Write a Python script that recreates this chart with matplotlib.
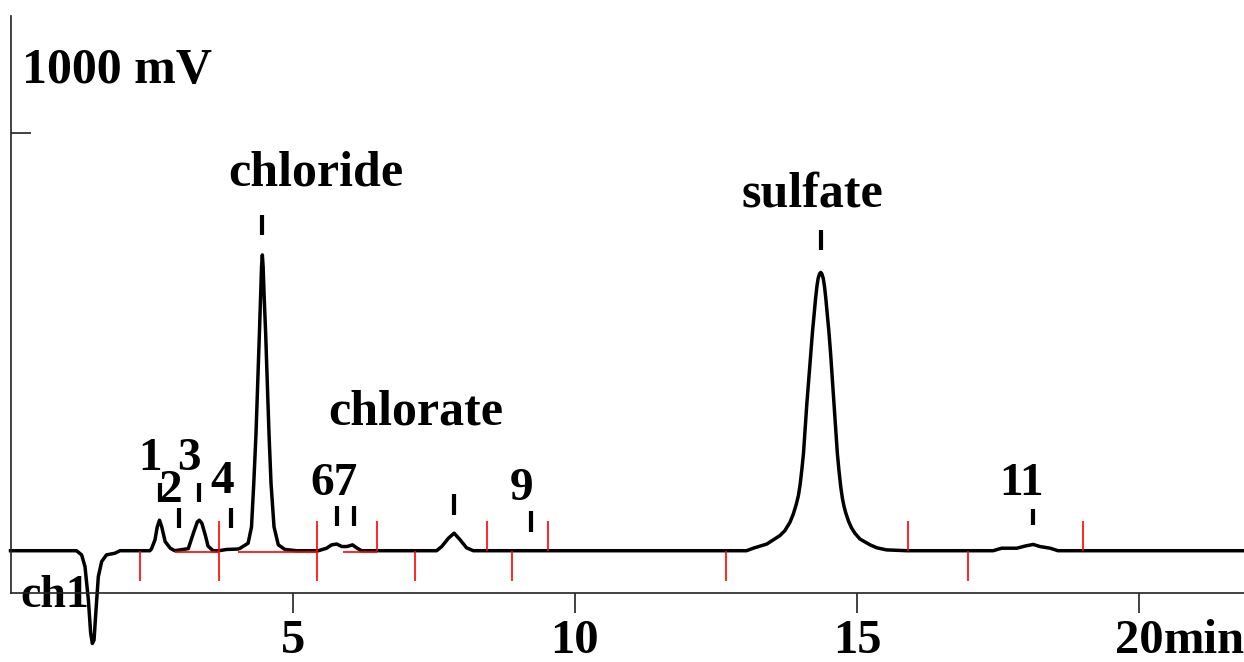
import matplotlib
matplotlib.use('Agg')
import matplotlib.pyplot as plt
import matplotlib.transforms as mtransforms

plt.rcParams['font.family'] = ['Liberation Serif', 'DejaVu Serif']
plt.rcParams['font.weight'] = 'bold'

# chromatogram trace: time (min), signal (mV)
trace_t = [0.00, 1.17, 1.26, 1.32, 1.38, 1.42, 1.45, 1.48, 1.515, 1.556, 1.615, 1.70, 1.85, 1.94,
           2.47, 2.50, 2.56, 2.60, 2.64, 2.68, 2.74, 2.83, 2.91,
           3.15, 3.24, 3.31, 3.345, 3.39, 3.45, 3.50, 3.59, 3.69, 3.83, 4.03,
           4.07, 4.21, 4.27, 4.31, 4.35, 4.38, 4.41, 4.433, 4.448, 4.462, 4.476, 4.492,
           4.521, 4.55, 4.58, 4.616, 4.669, 4.745, 4.864, 5.07,
           5.455, 5.60, 5.69, 5.78, 5.87, 5.96, 6.06, 6.13, 6.22,
           7.55, 7.64, 7.76, 7.86, 7.96, 8.08, 8.20,
           13.04, 13.16, 13.40, 13.63, 13.72, 13.81, 13.87, 13.92, 13.96, 13.99, 14.02,
           14.05, 14.08, 14.11, 14.145, 14.18, 14.21, 14.24, 14.265, 14.29, 14.31,
           14.335, 14.355, 14.375, 14.40, 14.42, 14.445, 14.47, 14.50, 14.53, 14.56,
           14.59, 14.62, 14.65, 14.68, 14.71, 14.74, 14.77, 14.80, 14.85, 14.90,
           14.96, 15.05, 15.23, 15.35, 15.52, 15.88,
           17.41, 17.56, 17.83, 17.97, 18.12, 18.24, 18.42, 18.56, 21.86]
trace_mv = [0, 0, -10, -38, -118, -197, -222, -214, -142, -62, -26, -10, -6, 0,
            0, 5, 26, 57, 73, 57, 22, 6, 0,
            5, 42, 69, 73, 66, 38, 11, 0, 0, 3, 4,
            6, 18, 57, 161, 281, 401, 520, 616, 680, 708, 680, 616,
            520, 401, 281, 161, 57, 14, 3, 0,
            0, 6, 14, 16, 10, 10, 14, 7, 0,
            0, 10, 30, 42, 27, 7, 0,
            0, 6, 16, 36, 48, 68, 88, 110, 132, 158, 193,
            233, 293, 353, 413, 473, 525, 568, 605, 635, 652,
            663, 666, 663, 652, 635, 605, 568, 525, 473, 413,
            353, 293, 233, 190, 153, 125, 105, 90, 70, 55,
            42, 28, 14, 7, 2, 0,
            0, 6, 6, 11, 15, 10, 6, 0, 0]

# peak markers (black ticks)
mark_t = [2.649, 2.985, 3.340, 3.907, 4.462, 5.780, 6.086, 7.858, 9.217, 14.355, 18.122]
mark_lo = [117, 54, 117, 54, 755, 59, 59, 85, 46, 720, 62]
mark_hi = [162, 102, 162, 102, 803, 107, 107, 135, 95, 768, 101]

# peak labels
num_text = ['1', '2', '3', '4', '67', '9', '11']
num_t = [2.472, 2.838, 3.163, 3.753, 5.732, 9.057, 17.92]
num_mv = [193, 117, 193, 137, 133, 121, 133]
name_text = ['chloride', 'chlorate', 'sulfate']
name_t = [5.41, 7.185, 14.21]
name_mv = [875, 301, 824]

# integration marks (red)
red_up_t = [6.488, 8.448, 9.529, 15.907, 19.008]
red_down_t = [2.294, 7.167, 8.880, 12.672, 16.960]
red_both_t = [3.694, 5.425]
base_start = [2.915, 4.03, 5.89]
base_end = [3.694, 5.425, 6.488]

fig = plt.figure(figsize=(12.44, 6.62), dpi=100)
ax = fig.add_axes([10.5 / 1244, 1 - 592.7 / 662, 1 - 10.5 / 1244, (592.7 - 16) / 662])

ax.hlines([-2] * len(base_start), base_start, base_end, color='red', lw=1.2, zorder=3)
ax.plot(trace_t, trace_mv, color='black', lw=2.5, clip_on=False, zorder=2,
        solid_joinstyle='round')
ax.vlines(red_up_t, 0, 72, color='red', lw=1.2, zorder=3)
ax.vlines(red_down_t, -72, 0, color='red', lw=1.2, zorder=3)
ax.vlines(red_both_t, -72, 72, color='red', lw=1.2, zorder=3)
ax.vlines(mark_t, mark_lo, mark_hi, color='black', lw=3, zorder=3)

for s, t, v in zip(num_text, num_t, num_mv):
    ax.text(t, v, s, ha='center', va='baseline', fontsize=34, fontweight='bold')
for s, t, v in zip(name_text, name_t, name_mv):
    ax.text(t, v, s, ha='center', va='baseline', fontsize=36, fontweight='bold')

ax.text(0.204, 1120, '1000 mV', ha='left', va='baseline', fontsize=36, fontweight='bold')
ax.text(0.168, -135, 'ch1', ha='left', va='baseline', fontsize=33, fontweight='bold', zorder=1)

ax.set_xlim(0, 21.855)
ax.set_ylim(-100.5, 1280)
for side in ['top', 'right']:
    ax.spines[side].set_visible(False)
for side in ['left', 'bottom']:
    ax.spines[side].set_linewidth(1.2)
    ax.spines[side].set_color('#222222')

ax.set_xticks([5, 10, 15, 20])
ax.set_xticklabels(['5', '10', '15', '20'], fontsize=35, fontweight='bold')
ax.tick_params(axis='x', direction='out', length=14.4, width=1.2, pad=4.5, colors='#222222',
               labelcolor='black')
ax.set_yticks([1000])
ax.set_yticklabels([])
ax.tick_params(axis='y', direction='in', length=14.4, width=1.2, colors='#222222')

trans = mtransforms.blended_transform_factory(ax.transData, ax.transAxes)
ax.text(20.43, -(619 - 592.7) / 576.7, 'min', transform=trans, ha='left', va='top',
        fontsize=35, fontweight='bold')

fig.savefig('out.png', dpi=100)
